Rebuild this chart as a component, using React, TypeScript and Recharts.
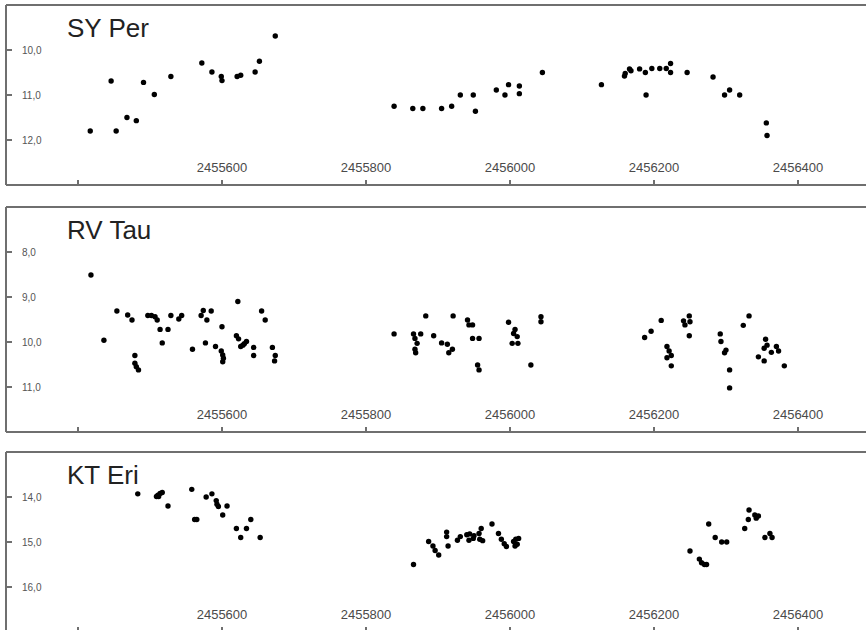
import React from "react";
import { ScatterChart, Scatter, XAxis, YAxis, ReferenceLine } from "recharts";

// ---- data ----
const xTicks = [2455400, 2455600, 2455800, 2456000, 2456200, 2456400];
const xTickLabels = ["", "2455600", "2455800", "2456000", "2456200", "2456400"];
const xDomain: [number, number] = [2455300, 2456500];

const syPerTicks = [10, 11, 12];
const rvTauTicks = [8, 9, 10, 11];
const ktEriTicks = [14, 15, 16];

const syPer: [number, number][] = [
  [2455417, 11.8], [2455446, 10.69], [2455453, 11.8], [2455468, 11.5], [2455481, 11.57],
  [2455491, 10.72], [2455506, 10.99], [2455529, 10.59], [2455572, 10.29], [2455586, 10.49],
  [2455599, 10.59], [2455600, 10.68], [2455621, 10.59], [2455626, 10.56], [2455646, 10.49],
  [2455652, 10.25], [2455674, 9.69],
  [2455839, 11.25], [2455865, 11.3], [2455879, 11.3], [2455905, 11.3], [2455919, 11.25],
  [2455931, 11.0], [2455949, 11.0], [2455952, 11.36], [2455981, 10.89], [2455993, 11.0],
  [2455998, 10.77], [2456013, 10.8], [2456013, 10.97], [2456045, 10.5],
  [2456127, 10.77], [2456159, 10.58], [2456160, 10.52], [2456166, 10.42], [2456168, 10.46],
  [2456180, 10.42], [2456188, 10.5], [2456189, 11.0], [2456197, 10.41], [2456208, 10.41],
  [2456217, 10.41], [2456223, 10.3], [2456223, 10.5], [2456246, 10.5], [2456282, 10.6],
  [2456298, 11.0], [2456305, 10.89], [2456319, 11.0], [2456356, 11.62], [2456357, 11.9],
];

const rvTau: [number, number][] = [
  [2455418, 8.51], [2455436, 9.96], [2455454, 9.31], [2455469, 9.4], [2455475, 9.51],
  [2455479, 10.3], [2455479, 10.47], [2455481, 10.55], [2455484, 10.62], [2455497, 9.41],
  [2455502, 9.41], [2455507, 9.44], [2455510, 9.51], [2455514, 9.72], [2455525, 9.72],
  [2455517, 10.02], [2455529, 9.41], [2455540, 9.49], [2455544, 9.41], [2455559, 10.16],
  [2455571, 9.41], [2455574, 9.3], [2455579, 9.51], [2455585, 9.31], [2455577, 10.02],
  [2455591, 10.1], [2455600, 9.66], [2455599, 10.2], [2455601, 10.29], [2455602, 10.36],
  [2455601, 10.44], [2455622, 9.1], [2455620, 9.86], [2455623, 9.93], [2455626, 10.1],
  [2455631, 10.04], [2455634, 9.99], [2455629, 10.07], [2455644, 10.12], [2455644, 10.3],
  [2455655, 9.31], [2455660, 9.51], [2455670, 10.12], [2455674, 10.3], [2455673, 10.42],
  [2455839, 9.82], [2455866, 9.82], [2455868, 9.92], [2455871, 10.03], [2455868, 10.16],
  [2455869, 10.24], [2455876, 9.82], [2455883, 9.42], [2455894, 9.86], [2455905, 10.02],
  [2455913, 10.05], [2455920, 10.16], [2455915, 10.24], [2455921, 9.42], [2455941, 9.51],
  [2455943, 9.62], [2455948, 9.62], [2455948, 9.92], [2455957, 9.92], [2455955, 10.51],
  [2455957, 10.62], [2455998, 9.56], [2456005, 9.81], [2456007, 9.72], [2456010, 9.88],
  [2456003, 10.03], [2456011, 10.03], [2456029, 10.51], [2456043, 9.44], [2456043, 9.55],
  [2456187, 9.9], [2456196, 9.76], [2456210, 9.52], [2456218, 10.1], [2456221, 10.2],
  [2456224, 10.3], [2456218, 10.35], [2456224, 10.53], [2456241, 9.53], [2456243, 9.62],
  [2456249, 9.42], [2456250, 9.55], [2456249, 9.86], [2456292, 9.82], [2456293, 9.99],
  [2456300, 10.18], [2456298, 10.24], [2456305, 10.62], [2456305, 11.02], [2456324, 9.63],
  [2456332, 9.42], [2456345, 10.33], [2456353, 10.42], [2456355, 9.94], [2456357, 10.07],
  [2456353, 10.14], [2456363, 10.23], [2456370, 10.1], [2456373, 10.2], [2456381, 10.53],
];

const ktEri: [number, number][] = [
  [2455483, 13.93], [2455509, 13.99], [2455511, 13.96], [2455514, 13.92], [2455517, 13.9],
  [2455512, 13.99], [2455525, 14.2], [2455558, 13.83], [2455562, 14.5], [2455565, 14.5],
  [2455578, 14.0], [2455586, 13.93], [2455592, 14.08], [2455593, 14.16], [2455595, 14.21],
  [2455601, 14.4], [2455607, 14.2], [2455620, 14.7], [2455626, 14.9], [2455634, 14.7],
  [2455640, 14.5], [2455653, 14.9],
  [2455866, 15.5], [2455887, 14.99], [2455893, 15.09], [2455896, 15.19], [2455901, 15.29],
  [2455912, 14.78], [2455912, 14.88], [2455914, 15.09], [2455927, 14.96], [2455931, 14.88],
  [2455940, 14.84], [2455943, 14.96], [2455944, 14.82], [2455949, 14.92], [2455950, 14.86],
  [2455957, 14.81], [2455960, 14.7], [2455958, 14.94], [2455962, 14.97], [2455975, 14.6],
  [2455984, 14.81], [2455988, 14.94], [2455992, 15.04], [2455995, 15.1], [2456005, 14.99],
  [2456008, 14.94], [2456012, 14.92], [2456007, 15.09], [2456010, 15.05],
  [2456250, 15.2], [2456263, 15.38], [2456266, 15.46], [2456270, 15.5], [2456273, 15.5],
  [2456276, 14.6], [2456285, 14.9], [2456294, 15.0], [2456301, 15.0], [2456326, 14.7],
  [2456331, 14.5], [2456332, 14.29], [2456340, 14.4], [2456342, 14.47], [2456345, 14.42],
  [2456354, 14.9], [2456361, 14.81], [2456364, 14.9],
];

// ---- styling ----
const FONT = "'Liberation Sans', Arial, sans-serif";
const FRAME = "#6f6f6f";
const CHART_W = 870;

const XTick = (props: any) => {
  const { x, y, payload } = props;
  const idx = xTicks.indexOf(payload.value);
  const label = idx >= 0 ? xTickLabels[idx] : "";
  return (
    <g>
      <line x1={x} x2={x} y1={y} y2={y - 5} stroke={FRAME} strokeWidth={2} />
      {label ? (
        <text x={x} y={y - 13} textAnchor="middle" fontSize={13} fill="#4a4a4a" fontFamily={FONT}>
          {label}
        </text>
      ) : null}
    </g>
  );
};

const YTick = (props: any) => {
  const { x, y, payload } = props;
  const label = payload.value.toFixed(1).replace(".", ",");
  return (
    <g>
      <line x1={x} x2={x + 6} y1={y} y2={y} stroke={FRAME} strokeWidth={2} />
      <text x={x + 16} y={y + 3.5} textAnchor="start" fontSize={10} fill="#555" fontFamily={FONT}>
        {label}
      </text>
    </g>
  );
};

const Dot = (props: any) => <circle cx={props.cx} cy={props.cy} r={2.7} fill="#000" />;

type PanelProps = {
  title: string;
  data: [number, number][];
  yDomain: [number, number];
  yTicks: number[];
  top: number;
  plotHeight: number;
};

const Panel = ({ title, data, yDomain, yTicks, top, plotHeight }: PanelProps) => {
  const rows = data.map(([jd, mag]) => ({ jd, mag }));
  const mTop = 5;
  const mBottom = 1;
  return (
    <div style={{ position: "absolute", left: 0, top }}>
      <ScatterChart
        width={CHART_W}
        height={plotHeight + mTop + mBottom + 1}
        margin={{ top: mTop, right: 0, bottom: mBottom, left: 5 }}
      >
        <XAxis
          type="number"
          dataKey="jd"
          domain={xDomain}
          ticks={xTicks}
          allowDataOverflow
          height={1}
          tickSize={0}
          tickMargin={0}
          tickLine={false}
          axisLine={{ stroke: FRAME, strokeWidth: 2 }}
          tick={<XTick />}
          interval={0}
        />
        <YAxis
          type="number"
          dataKey="mag"
          domain={yDomain}
          reversed
          ticks={yTicks}
          allowDataOverflow
          width={1}
          tickSize={0}
          tickMargin={0}
          tickLine={false}
          axisLine={{ stroke: FRAME, strokeWidth: 2 }}
          tick={<YTick />}
          interval={0}
        />
        <ReferenceLine y={yDomain[0]} stroke={FRAME} strokeWidth={2} />
        <Scatter data={rows} shape={<Dot />} isAnimationActive={false} />
      </ScatterChart>
      <div
        style={{
          position: "absolute",
          left: 67,
          top: mTop + 10,
          fontFamily: FONT,
          fontSize: 26,
          lineHeight: 1,
          color: "#222",
          whiteSpace: "nowrap",
        }}
      >
        {title}
      </div>
    </div>
  );
};

export default function App() {
  return (
    <div
      style={{
        position: "fixed",
        left: 0,
        top: 0,
        width: 866,
        height: 630,
        overflow: "hidden",
        background: "#fff",
      }}
    >
      <Panel title="SY Per" data={syPer} yDomain={[9, 13]} yTicks={syPerTicks} top={0} plotHeight={180} />
      <Panel title="RV Tau" data={rvTau} yDomain={[7, 12]} yTicks={rvTauTicks} top={202} plotHeight={225} />
      <Panel title="KT Eri" data={ktEri} yDomain={[13, 17]} yTicks={ktEriTicks} top={447} plotHeight={180} />
    </div>
  );
}
